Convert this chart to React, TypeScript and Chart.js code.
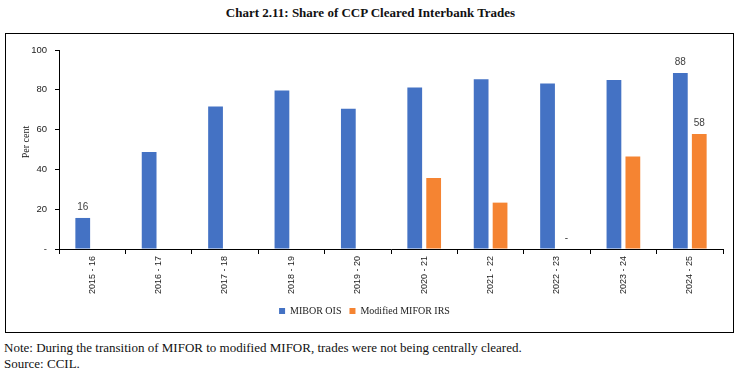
import React, { useEffect, useRef } from "react";
import { Chart, registerables } from "chart.js";

Chart.register(...registerables);

const categories = ["2015 - 16", "2016 - 17", "2017 - 18", "2018 - 19", "2019 - 20", "2020 - 21", "2021 - 22", "2022 - 23", "2023 - 24", "2024 - 25"];
const miborOis = [15.6, 48.8, 71.6, 79.6, 70.5, 81.1, 85.3, 83.2, 84.9, 88.4];
const modifiedMiforIrs = [null, null, null, null, null, 35.7, 23.3, 0, 46.5, 57.8];
const miborLabels = ["16", "", "", "", "", "", "", "", "", "88"];
const miforLabels = ["", "", "", "", "", "", "", "-", "", "58"];
const yTicks = [0, 20, 40, 60, 80, 100];

const BLUE = "#4472C4";
const ORANGE = "#F58432";

const labelPlugin = {
  id: "barLabels",
  afterDatasetsDraw(chart: any) {
    const ctx = chart.ctx;
    const lists = [miborLabels, miforLabels];
    ctx.save();
    ctx.font = "10px 'Liberation Sans'";
    ctx.fillStyle = "#404040";
    ctx.textAlign = "center";
    ctx.textBaseline = "bottom";
    lists.forEach((labels, di) => {
      const meta = chart.getDatasetMeta(di);
      labels.forEach((t, i) => {
        if (!t) return;
        const el = meta.data[i];
        if (!el) return;
        ctx.fillText(t, el.x, el.y - 6);
      });
    });
    ctx.restore();
  },
};

export default function App() {
  const ref = useRef<HTMLCanvasElement>(null);
  useEffect(() => {
    if (!ref.current) return;
    const chart = new Chart(ref.current, {
      type: "bar",
      data: {
        labels: categories,
        datasets: [
          { label: "MIBOR OIS", data: miborOis, backgroundColor: BLUE, barPercentage: 0.78, categoryPercentage: 0.57 },
          { label: "Modified MIFOR IRS", data: modifiedMiforIrs as any, backgroundColor: ORANGE, barPercentage: 0.78, categoryPercentage: 0.57 },
        ],
      },
      options: {
        responsive: false,
        animation: false,
        layout: { padding: { top: 16, right: 10, left: 0, bottom: 6 } },
        plugins: {
          legend: {
            position: "bottom",
            labels: {
              boxWidth: 6,
              boxHeight: 6,
              padding: 8,
              color: "#222",
              font: { family: "'Liberation Serif'", size: 10 },
            },
          },
          tooltip: { enabled: false },
        },
        scales: {
          x: {
            grid: { display: true, drawOnChartArea: false, drawTicks: true, tickLength: 5, color: "#000", offset: true },
            border: { display: true, color: "#000", width: 1 },
            ticks: {
              maxRotation: 90,
              minRotation: 90,
              padding: 2,
              color: "#222",
              font: { family: "'Liberation Sans'", size: 9 },
            },
            afterFit(scale: any) {
              scale.height = 49;
            },
          },
          y: {
            min: 0,
            max: 100,
            afterBuildTicks(scale: any) {
              scale.ticks = yTicks.map((v) => ({ value: v }));
            },
            grid: { display: true, drawOnChartArea: false, drawTicks: true, tickLength: 4, color: "#000" },
            border: { display: true, color: "#000", width: 1 },
            ticks: {
              padding: 8,
              color: "#222",
              font: { family: "'Liberation Sans'", size: 9.5 },
              callback: (v: any) => (Number(v) === 0 ? "-" : String(v)),
            },
            afterFit(scale: any) {
              scale.width = 53;
            },
          },
        },
      },
      plugins: [labelPlugin],
    });
    return () => chart.destroy();
  }, []);

  return (
    <div style={{ position: "fixed", left: 0, top: 0, width: 741, height: 375, background: "#fff", fontFamily: "'Liberation Serif', serif", color: "#111" }}>
      <div style={{ position: "absolute", top: 5, left: 0, width: 741, textAlign: "center", fontWeight: "bold", fontSize: 13 }}>
        Chart 2.11: Share of CCP Cleared Interbank Trades
      </div>
      <div style={{ position: "absolute", left: 5, top: 33, width: 727, height: 298, border: "1px solid #000" }}>
        <canvas ref={ref} width={727} height={298} style={{ display: "block" }} />
        <div style={{ position: "absolute", left: 20 - 30, top: 108 - 6, width: 60, textAlign: "center", transform: "rotate(-90deg)", fontSize: 10, lineHeight: "12px", color: "#222" }}>
          Per cent
        </div>
      </div>
      <div style={{ position: "absolute", left: 4, top: 340, fontSize: 13 }}>
        Note: During the transition of MIFOR to modified MIFOR, trades were not being centrally cleared.
      </div>
      <div style={{ position: "absolute", left: 4, top: 356, fontSize: 13 }}>
        Source: CCIL.
      </div>
    </div>
  );
}
